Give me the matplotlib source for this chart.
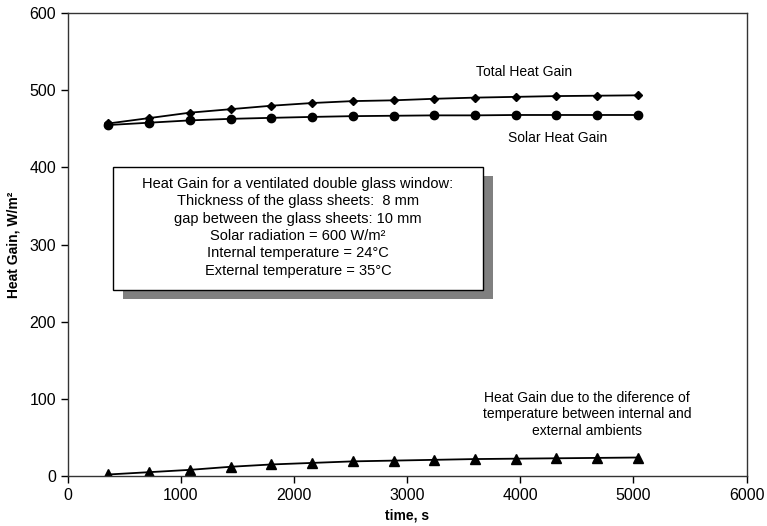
import matplotlib

matplotlib.use("Agg")
import matplotlib.pyplot as plt
from matplotlib.patches import Rectangle

plt.rcParams["font.family"] = ["Liberation Sans", "DejaVu Sans"]

time_s = [360, 720, 1080, 1440, 1800, 2160, 2520, 2880, 3240, 3600, 3960, 4320, 4680, 5040]
total_gain = [457, 464, 471, 475.5, 480, 483.5, 486, 487, 489, 490.5, 491.5, 492.5, 493, 493.5]
solar_gain = [455, 458, 461, 463, 464.3, 465.5, 466.5, 467, 467.5, 467.5, 468, 468, 468, 468]
temp_gain = [2, 5, 8, 12, 15, 17, 19, 20, 21, 22, 22.5, 23, 23.5, 24]

box_lines = [
    "Heat Gain for a ventilated double glass window:",
    "Thickness of the glass sheets:  8 mm",
    "gap between the glass sheets: 10 mm",
    "Solar radiation = 600 W/m\u00b2",
    "Internal temperature = 24\u00b0C",
    "External temperature = 35\u00b0C",
]


def main() -> None:
    fig = plt.figure(figsize=(7.67, 5.26), dpi=100)
    ax = fig.add_axes([0.0883, 0.095, 0.885, 0.880])

    ax.plot(time_s, total_gain, color="black", lw=1.3, marker="D", ms=4.5)
    ax.plot(time_s, solar_gain, color="black", lw=1.3, marker="o", ms=6)
    ax.plot(time_s, temp_gain, color="black", lw=1.3, marker="^", ms=7)

    ax.set_xlim(0, 6000)
    ax.set_ylim(0, 600)
    ax.set_xticks(range(0, 6001, 1000))
    ax.set_yticks(range(0, 601, 100))
    ax.tick_params(direction="out", length=5, width=1, labelsize=11.5, colors="black")
    for s in ax.spines.values():
        s.set_color("#333333")
        s.set_linewidth(1)

    ax.set_xlabel("time, s", fontsize=10, fontweight="bold", labelpad=4)
    ax.set_ylabel("Heat Gain, W/m\u00b2", fontsize=10, fontweight="bold", labelpad=6)

    ax.text(4030, 524, "Total Heat Gain", ha="center", va="center", fontsize=10)
    ax.text(4330, 438, "Solar Heat Gain", ha="center", va="center", fontsize=10)
    ax.text(4590, 80,
            "Heat Gain due to the diference of\ntemperature between internal and\nexternal ambients",
            ha="center", va="center", fontsize=10, linespacing=1.25)

    # text box with grey drop shadow
    bx0, by0, bw, bh = 400, 241, 3270, 159
    ax.add_patch(Rectangle((bx0 + 90, by0 - 11), bw, bh, facecolor="#808080",
                           edgecolor="none", zorder=3))
    ax.add_patch(Rectangle((bx0, by0), bw, bh, facecolor="white",
                           edgecolor="black", lw=1, zorder=4))
    y = 379
    for line in box_lines:
        ax.text(bx0 + bw / 2, y, line, ha="center", va="center", fontsize=10.5, zorder=5)
        y -= 22.6

    fig.savefig("out.png", dpi=100)


if __name__ == "__main__":
    main()
